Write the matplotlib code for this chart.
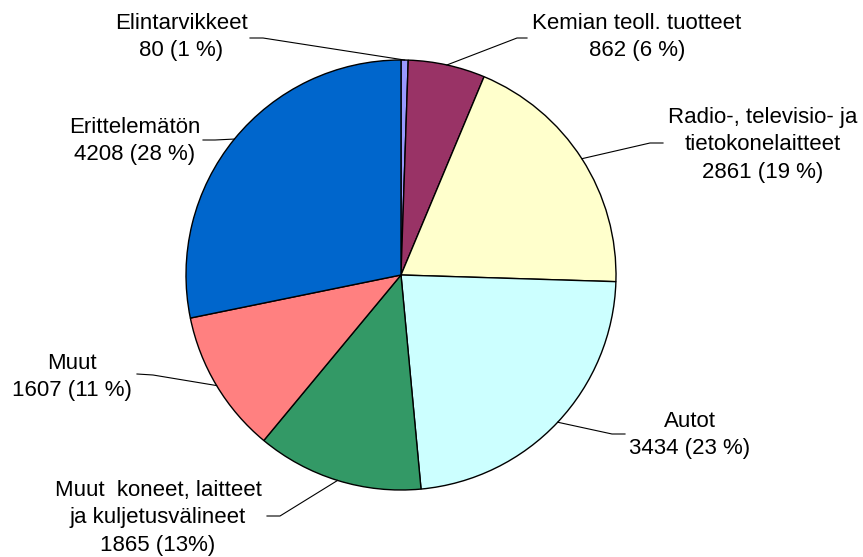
import numpy as np
import matplotlib
matplotlib.use("Agg")
from matplotlib import pyplot as plt

plt.rcParams["font.family"] = ["Liberation Sans", "DejaVu Sans"]

# Data
labels = ["Elintarvikkeet\n80 (1 %)",
          "Kemian teoll. tuotteet\n862 (6 %)",
          "Radio-, televisio- ja\ntietokonelaitteet\n2861 (19 %)",
          "Autot\n3434 (23 %)",
          "Muut  koneet, laitteet\nja kuljetusvälineet\n1865 (13%)",
          "Muut\n1607 (11 %)",
          "Erittelemätön\n4208 (28 %)"]
values = [80, 862, 2861, 3434, 1865, 1607, 4208]
colors = ["#9999FF", "#993366", "#FFFFCC", "#CCFFFF", "#339966", "#FF8080", "#0066CC"]

W, H = 863, 557
fig = plt.figure(figsize=(W / 100, H / 100), dpi=100)
ax = fig.add_axes([0, 0, 1, 1])

cx, cy, r = 401, H - 275, 215
wedges, _ = ax.pie(values, colors=colors, startangle=90, counterclock=False,
                   center=(cx, cy), radius=r, frame=True,
                   wedgeprops=dict(edgecolor="black", linewidth=1.0))
ax.set_xlim(0, W)
ax.set_ylim(0, H)
ax.set_aspect("equal")
ax.axis("off")

# Label layout (pixel coords, y down): text centre, line start, elbow
text_pos = [(181, 37), (637, 37), (763, 145), (690, 435), (158, 518), (72, 377), (135, 141)]
line_start = [(250, 38), (527, 38), (663, 143), (625, 434), (267, 516), (137, 374), (203, 140)]
elbow = [(263, 38), (517, 38), (650, 143), (612, 434), (280, 516), (153, 375), (215, 140)]

for w, lab, tp, ls, el in zip(wedges, labels, text_pos, line_start, elbow):
    ang = np.deg2rad((w.theta1 + w.theta2) / 2)
    px, py = cx + r * np.cos(ang), cy + r * np.sin(ang)
    ax.plot([ls[0], el[0], px], [H - ls[1], H - el[1], py], color="black", lw=0.8)
    ax.text(tp[0], H - tp[1], lab, ha="center", va="center", fontsize=16,
            linespacing=1.4, color="black")

fig.savefig("out.png", dpi=100)
